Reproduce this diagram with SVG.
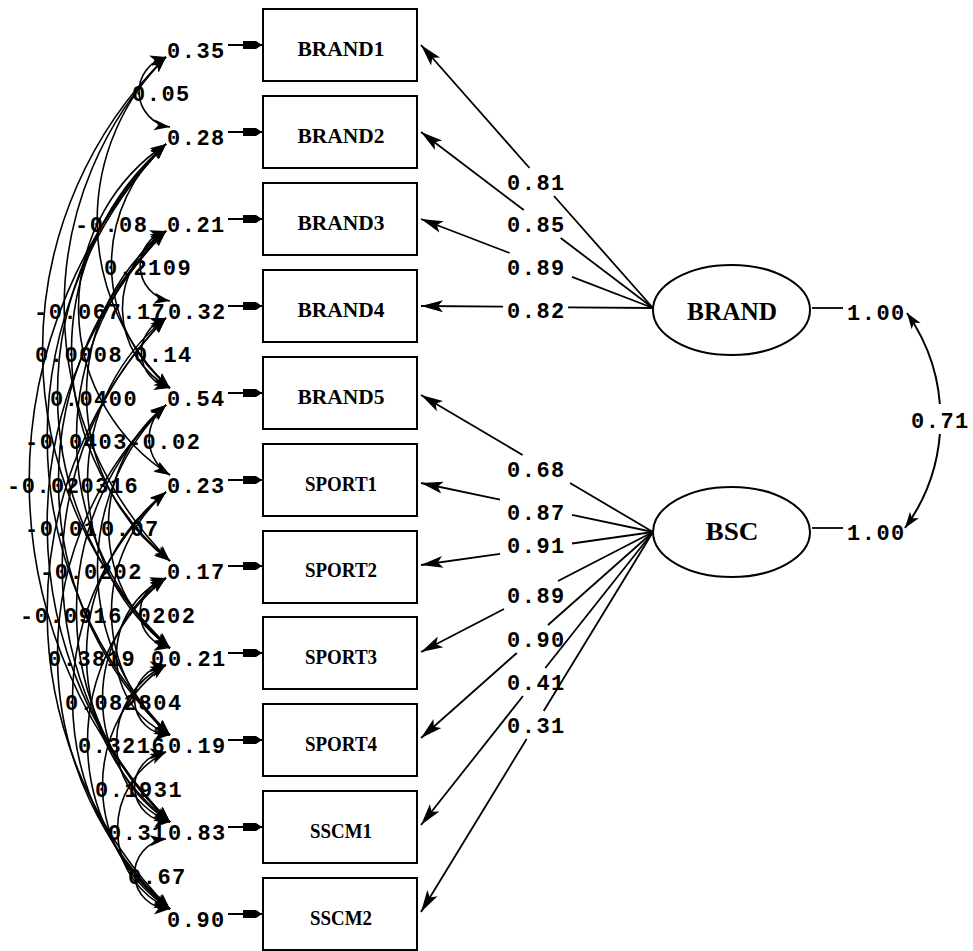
<svg xmlns="http://www.w3.org/2000/svg" width="973" height="951" viewBox="0 0 973 951">
<style>
.box{fill:#fff;stroke:#000;stroke-width:2}
.lat{fill:#fff;stroke:#000;stroke-width:2}
.vn{font-family:"Liberation Serif",serif;font-weight:bold;font-size:22px;text-anchor:middle;fill:#000}
.ln{font-family:"Liberation Serif",serif;font-weight:bold;font-size:26px;text-anchor:middle;fill:#000}
.num{font-family:"Liberation Mono",monospace;font-weight:bold;font-size:22px;letter-spacing:1.5px;fill:#000}
.ld{fill:none;stroke:#000;stroke-width:1.8}
.ld2{fill:none;stroke:#000;stroke-width:1.8;marker-end:url(#ha)}
.stub{fill:none;stroke:#000;stroke-width:1.8;marker-end:url(#hs)}
.cv{fill:none;stroke:#000;stroke-width:1.6;marker-start:url(#hc);marker-end:url(#hc)}
.phi{fill:none;stroke:#000;stroke-width:2;marker-start:url(#hc);marker-end:url(#hc)}
</style>
<defs>
<marker id="ha" viewBox="-24 -8 26 16" refX="0" refY="0" markerWidth="26" markerHeight="16" markerUnits="userSpaceOnUse" orient="auto">
<path d="M0,0 L-22,-6 L-17,0 L-22,6 Z" fill="#000"/>
</marker>
<marker id="hs" viewBox="-22 -6 24 12" refX="0" refY="0" markerWidth="24" markerHeight="12" markerUnits="userSpaceOnUse" orient="auto">
<path d="M0,0 L-6,-4 L-19,-4 L-19,4 L-6,4 Z" fill="#000"/>
</marker>
<marker id="hc" viewBox="-20 -8 22 16" refX="0" refY="0" markerWidth="22" markerHeight="16" markerUnits="userSpaceOnUse" orient="auto-start-reverse">
<path d="M0,0 L-16,-5.5 L-12,0 L-16,5.5 Z" fill="#000"/>
</marker>
</defs>
<rect width="973" height="951" fill="#fff"/>

<!-- observed variables -->
<g id="BRAND1"><rect class="box" x="263" y="9" width="154" height="72"/><text class="vn" x="341" y="56" textLength="87" lengthAdjust="spacingAndGlyphs">BRAND1</text></g>
<g id="BRAND2"><rect class="box" x="263" y="96" width="154" height="72"/><text class="vn" x="341" y="143" textLength="87" lengthAdjust="spacingAndGlyphs">BRAND2</text></g>
<g id="BRAND3"><rect class="box" x="263" y="183" width="154" height="72"/><text class="vn" x="341" y="230" textLength="87" lengthAdjust="spacingAndGlyphs">BRAND3</text></g>
<g id="BRAND4"><rect class="box" x="263" y="270" width="154" height="72"/><text class="vn" x="341" y="317" textLength="87" lengthAdjust="spacingAndGlyphs">BRAND4</text></g>
<g id="BRAND5"><rect class="box" x="263" y="357" width="154" height="72"/><text class="vn" x="341" y="404" textLength="87" lengthAdjust="spacingAndGlyphs">BRAND5</text></g>
<g id="SPORT1"><rect class="box" x="263" y="444" width="154" height="72"/><text class="vn" x="341" y="491" textLength="72" lengthAdjust="spacingAndGlyphs">SPORT1</text></g>
<g id="SPORT2"><rect class="box" x="263" y="531" width="154" height="72"/><text class="vn" x="341" y="577" textLength="72" lengthAdjust="spacingAndGlyphs">SPORT2</text></g>
<g id="SPORT3"><rect class="box" x="263" y="617" width="154" height="72"/><text class="vn" x="341" y="664" textLength="72" lengthAdjust="spacingAndGlyphs">SPORT3</text></g>
<g id="SPORT4"><rect class="box" x="263" y="704" width="154" height="72"/><text class="vn" x="341" y="751" textLength="72" lengthAdjust="spacingAndGlyphs">SPORT4</text></g>
<g id="SSCM1"><rect class="box" x="263" y="791" width="154" height="72"/><text class="vn" x="341" y="838" textLength="62" lengthAdjust="spacingAndGlyphs">SSCM1</text></g>
<g id="SSCM2"><rect class="box" x="263" y="878" width="154" height="72"/><text class="vn" x="341" y="925" textLength="62" lengthAdjust="spacingAndGlyphs">SSCM2</text></g>

<!-- latent variables -->
<g id="BRAND"><ellipse class="lat" cx="731.5" cy="310" rx="78.5" ry="45"/><text class="ln" x="732" y="320" textLength="90" lengthAdjust="spacingAndGlyphs">BRAND</text></g>
<g id="BSC"><ellipse class="lat" cx="731.5" cy="532" rx="78.5" ry="45"/><text class="ln" x="732" y="540" textLength="53" lengthAdjust="spacingAndGlyphs">BSC</text></g>

<g id="connectors">
<!-- loadings of BRAND -->
<path class="ld" d="M653,308 L554,196"/><path class="ld2" d="M529.5,168 L421,45"/>
<path class="ld" d="M653,308 L560.7,238"/><path class="ld2" d="M523.8,210 L421,132"/>
<path class="ld" d="M653,308 L572,276.9"/><path class="ld2" d="M509.6,253 L421,219"/>
<path class="ld" d="M653,308 L568,307.3"/><path class="ld2" d="M503,306.6 L421,306"/>
<!-- loadings of BSC -->
<path class="ld" d="M653,532 L570,483"/><path class="ld2" d="M522.6,455 L421,395"/>
<path class="ld" d="M653,532 L572,514.9"/><path class="ld2" d="M500,499.7 L421,483"/>
<path class="ld" d="M653,532 L572,543.5"/><path class="ld2" d="M500,553.8 L421,565"/>
<path class="ld" d="M653,532 L558,581"/><path class="ld2" d="M504,609 L421,652"/>
<path class="ld" d="M653,532 L548,625"/><path class="ld2" d="M516.8,653 L421,738"/>
<path class="ld" d="M653,532 L545.3,668"/><path class="ld2" d="M523,696 L421,825"/>
<path class="ld" d="M653,532 L543.7,711"/><path class="ld2" d="M526.6,739 L421,912"/>
<!-- latent variances and covariance -->
<path class="ld" d="M812,308 L843,308"/>
<path class="ld" d="M812,528 L843,528"/>
<path class="phi" d="M907,313 A185,185 0 0 1 905,528"/>
<!-- error terms -->
<path class="stub" d="M228,45 L262,45"/>
<path class="stub" d="M228,132 L262,132"/>
<path class="stub" d="M228,219 L262,219"/>
<path class="stub" d="M228,306 L262,306"/>
<path class="stub" d="M228,393 L262,393"/>
<path class="stub" d="M228,480 L262,480"/>
<path class="stub" d="M228,566 L262,566"/>
<path class="stub" d="M228,653 L262,653"/>
<path class="stub" d="M228,740 L262,740"/>
<path class="stub" d="M228,827 L262,827"/>
<path class="stub" d="M228,914 L262,914"/>
<!-- error covariances -->
<path class="cv" d="M166,57 A35.7,35.7 0 0 0 170,127"/>
<path class="cv" d="M166,57 A228.8,228.8 0 0 0 170,388"/>
<path class="cv" d="M166,144 A160,160 0 0 0 170,388"/>
<path class="cv" d="M166,231 A36,36 0 0 0 170,301"/>
<path class="cv" d="M166,57 A357.8,357.8 0 0 0 170,561"/>
<path class="cv" d="M166,144 A197.8,197.8 0 0 0 170,475"/>
<path class="cv" d="M166,231 A90.5,90.5 0 0 0 170,388"/>
<path class="cv" d="M166,57 A410.7,410.7 0 0 0 170,648"/>
<path class="cv" d="M166,144 A273.5,273.5 0 0 0 170,561"/>
<path class="cv" d="M166,318 A36.4,36.4 0 0 0 170,388"/>
<path class="cv" d="M166,144 A342.6,342.6 0 0 0 170,648"/>
<path class="cv" d="M166,231 A207.8,207.8 0 0 0 170,561"/>
<path class="cv" d="M166,144 A421.8,421.8 0 0 0 170,735"/>
<path class="cv" d="M166,231 A283.3,283.3 0 0 0 170,648"/>
<path class="cv" d="M166,405 A42,42 0 0 0 170,475"/>
<path class="cv" d="M166,144 A483.4,483.4 0 0 0 170,822"/>
<path class="cv" d="M166,231 A344.7,344.7 0 0 0 170,735"/>
<path class="cv" d="M166,318 A209.4,209.4 0 0 0 170,648"/>
<path class="cv" d="M166,231 A421.8,421.8 0 0 0 170,822"/>
<path class="cv" d="M166,405 A153.8,153.8 0 0 0 170,648"/>
<path class="cv" d="M166,318 A353,353 0 0 0 170,822"/>
<path class="cv" d="M166,405 A228.3,228.3 0 0 0 170,735"/>
<path class="cv" d="M166,318 A421.8,421.8 0 0 0 170,909"/>
<path class="cv" d="M166,405 A283.3,283.3 0 0 0 170,822"/>
<path class="cv" d="M166,492 A158.9,158.9 0 0 0 170,735"/>
<path class="cv" d="M166,578 A36,36 0 0 0 170,648"/>
<path class="cv" d="M166,405 A342.6,342.6 0 0 0 170,909"/>
<path class="cv" d="M166,492 A207.8,207.8 0 0 0 170,822"/>
<path class="cv" d="M166,578 A85.6,85.6 0 0 0 170,735"/>
<path class="cv" d="M166,492 A275.4,275.4 0 0 0 170,909"/>
<path class="cv" d="M166,578 A146.4,146.4 0 0 0 170,822"/>
<path class="cv" d="M166,665 A35.1,35.1 0 0 0 170,735"/>
<path class="cv" d="M166,578 A210.4,210.4 0 0 0 170,909"/>
<path class="cv" d="M166,665 A85.6,85.6 0 0 0 170,822"/>
<path class="cv" d="M166,665 A146.4,146.4 0 0 0 170,909"/>
<path class="cv" d="M166,752 A35.1,35.1 0 0 0 170,822"/>
<path class="cv" d="M166,752 A86.3,86.3 0 0 0 170,909"/>
<path class="cv" d="M166,839 A35.1,35.1 0 0 0 170,909"/>
</g>

<g id="loading-labels" class="num">
<text x="507" y="190">0.81</text>
<text x="507" y="232">0.85</text>
<text x="507" y="275">0.89</text>
<text x="507" y="318">0.82</text>
<text x="507" y="477">0.68</text>
<text x="507" y="520">0.87</text>
<text x="507" y="553">0.91</text>
<text x="507" y="603">0.89</text>
<text x="507" y="647">0.90</text>
<text x="507" y="690">0.41</text>
<text x="507" y="733">0.31</text>
<text x="847" y="320">1.00</text>
<text x="847" y="540">1.00</text>
<rect x="910" y="404" width="60" height="30" fill="#fff"/>
<text x="911" y="428">0.71</text>
</g>

<g id="error-labels" class="num">
<text x="167" y="58">0.35</text>
<text x="167" y="145">0.28</text>
<text x="167" y="232">0.21</text>
<text x="168" y="319">0.32</text>
<text x="167" y="406">0.54</text>
<text x="167" y="493">0.23</text>
<text x="167" y="579">0.17</text>
<text x="168" y="666">0.21</text>
<text x="168" y="753">0.19</text>
<text x="168" y="840">0.83</text>
<text x="167" y="927">0.90</text>
</g>

<g id="covariance-labels" class="num">
<text x="132" y="101">0.05</text>
<text x="75" y="232">-0.08</text>
<text x="104" y="275">0.2109</text>
<text x="34" y="319">-0.067.17</text>
<text x="35" y="362">0.0008</text>
<text x="134" y="362">0.14</text>
<text x="50" y="406">0.0400</text>
<text x="25" y="449">-0.0403-0.02</text>
<text x="7" y="493">-0.020316</text>
<text x="25" y="536">-0.01</text>
<text x="101" y="536">0.07</text>
<text x="40" y="579">-0.0202</text>
<text x="20" y="623">-0.0916 0202</text>
<text x="48" y="666">0.3819 0</text>
<text x="65" y="710">0.082804</text>
<text x="78" y="753">0.3216</text>
<text x="95" y="797">0.1931</text>
<text x="108" y="840">0.31</text>
<text x="128" y="884">0.67</text>
</g>
</svg>
